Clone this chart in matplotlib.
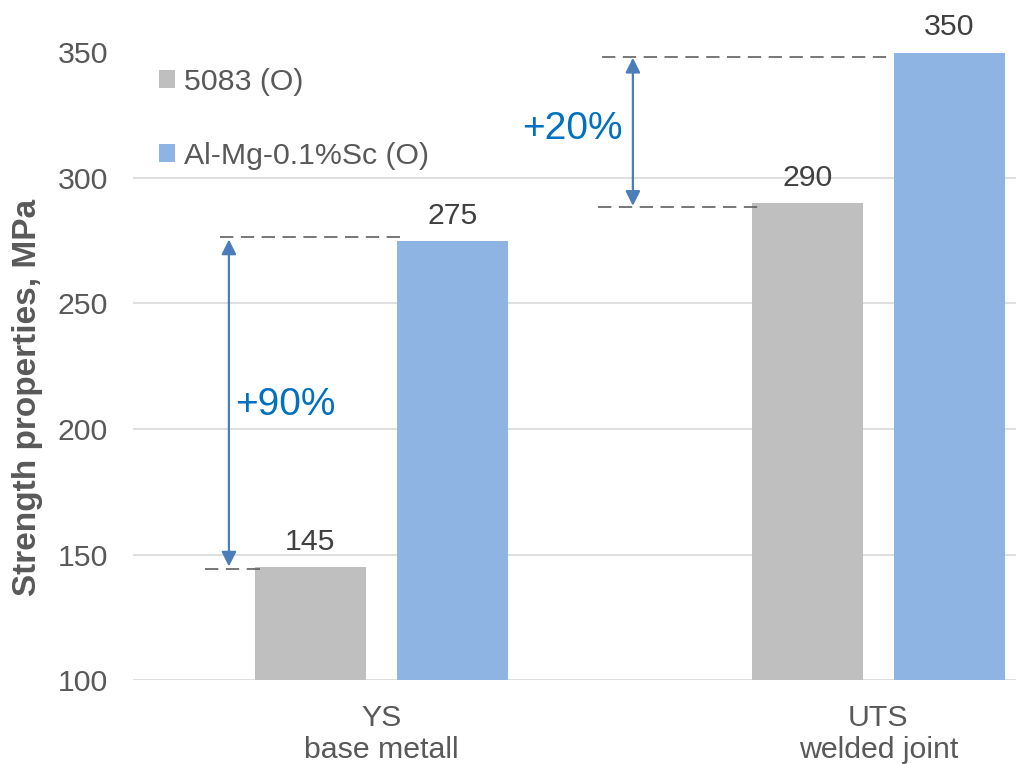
import numpy as np
import matplotlib.pyplot as plt

# data
categories = ['YS\nbase metall', 'UTS\nwelded joint']
alloy_5083 = [145, 290]
alloy_sc = [275, 350]
series_names = ['5083 (O)', 'Al-Mg-0.1%Sc (O)']
gains = ['+90%', '+20%']

# colours
c_gray = '#BFBFBF'
c_blue = '#8EB4E3'
c_text = '#595959'
c_arrow = '#4A7EBB'
c_pct = '#0070C0'

fs = 21.8
plt.rcParams['font.family'] = ['Liberation Sans', 'DejaVu Sans']

fig = plt.figure(figsize=(10.16, 7.64), dpi=100)
ax = fig.add_axes([133 / 1016, 84 / 764, 883 / 1016, 627.5 / 764])

x = np.arange(len(categories))
w = 0.223
off = 0.143
b1 = ax.bar(x - off, alloy_5083, w, bottom=0, color=c_gray, label=series_names[0], zorder=2)
b2 = ax.bar(x + off, alloy_sc, w, bottom=0, color=c_blue, label=series_names[1], zorder=2)

# value labels
for bars in (b1, b2):
    ax.bar_label(bars, padding=8, fontsize=fs, color='#404040')

# axes
ax.set_ylim(100, 350)
ax.set_xlim(-0.5, 1.277)
ax.set_yticks(np.arange(100, 351, 50))
ax.set_xticks(x)
ax.set_xticklabels(categories, linespacing=1.2)
ax.tick_params(axis='y', length=0, pad=18, labelsize=fs, labelcolor=c_text)
ax.tick_params(axis='x', length=0, pad=17, labelsize=fs, labelcolor=c_text)
ax.grid(axis='y', color='#D9D9D9', lw=1.2, zorder=0)
ax.set_axisbelow(True)
for s in ax.spines.values():
    s.set_visible(False)
ax.set_ylabel('Strength properties, MPa', fontsize=24, fontweight='bold', color=c_text)
ax.yaxis.set_label_coords(-0.102, 0.451)

# dashed reference lines
dash = dict(color='#606060', lw=1.2, linestyle=(0, (8, 4.5)), zorder=3, clip_on=False)
ax.plot([-0.355, -0.245], [144.2, 144.2], **dash)
ax.plot([-0.325, 0.041], [276.4, 276.4], **dash)
ax.plot([0.436, 0.758], [288.4, 288.4], **dash)
ax.plot([0.443, 1.027], [348.4, 348.4], **dash)

# double arrows
arr = dict(arrowstyle='<|-|>', color=c_arrow, lw=1.6, mutation_scale=22,
           shrinkA=0, shrinkB=0)
ax.annotate('', xy=(-0.307, 145.2), xytext=(-0.307, 275.5), arrowprops=arr)
ax.annotate('', xy=(0.506, 288.9), xytext=(0.506, 347.9), arrowprops=arr)

# percentage gains
ax.text(-0.295, 209.5, gains[0], fontsize=28, color=c_pct, ha='left', va='center')
ax.text(0.283, 319.7, gains[1], fontsize=28, color=c_pct, ha='left', va='center')

# legend
fig.legend(loc='upper left', bbox_to_anchor=(159 / 1016, 1 - 68 / 764), frameon=False,
           fontsize=fs, labelcolor=c_text, handlelength=0.52, handleheight=0.52,
           handletextpad=0.3, labelspacing=1.52, borderpad=0, borderaxespad=0)

fig.savefig('out.png', dpi=100)
